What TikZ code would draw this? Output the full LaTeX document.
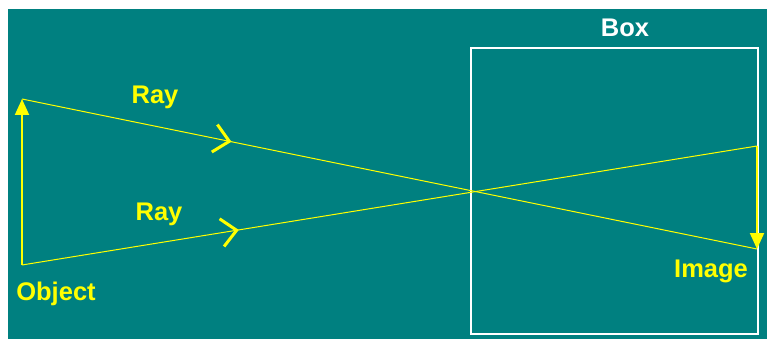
\documentclass[tikz,border=0pt]{standalone}
\usepackage{fontspec}
\setmainfont{Liberation Sans}
\usepackage{xcolor}
\usepackage{tikz}
\usetikzlibrary{arrows.meta,positioning,decorations.markings}
\definecolor{fundo}{HTML}{008080}
\definecolor{amarelo}{HTML}{FFFF00}
\tikzset{
    caixa/.style={
        rectangle,
        draw=white,
        line width=2pt,
        minimum width=287pt,
        minimum height=285pt,
        inner sep=0pt
    },
    rotulo/.style={font=\fontsize{25.5}{30}\selectfont\bfseries, inner sep=0pt},
    raio/.style={draw=amarelo, line width=1pt, postaction={decorate}},
    seta/.style={draw=amarelo, line width=2pt, -{Triangle[length=16pt, width=14pt]}},
    chevron/.style={
        decoration={markings,
            mark=at position #1 with {\arrow[amarelo]{Straight Barb[length=15pt, width=28pt, line width=3pt]}}}
    }
}

\begin{document}
\begin{tikzpicture}[x=1pt, y=-1pt]
        \useasboundingbox (0,0) rectangle (767,339);
        \fill[white] (0,0) rectangle (767,339);
        \fill[fundo] (8,9) rectangle (767,339);

        \coordinate (objTopo) at (22,99);
        \coordinate (objBase) at (22,265);
        \coordinate (imgTopo) at (757,146);
        \coordinate (imgBase) at (757,249);

        \node[caixa] (box) at (614.5,191) {};
        \node[rotulo, text=white, anchor=base] (boxLabel) at (625,37) {Box};

        \draw[raio, chevron=0.285] (objTopo) -- (imgBase);
        \draw[raio, chevron=0.295] (objBase) -- (imgTopo);
        \draw[seta] (objBase) -- (objTopo);
        \draw[seta] (imgTopo) -- (imgBase);

        \node[rotulo, text=amarelo, anchor=base] (rayA) at (155,104) {Ray};
        \node[rotulo, text=amarelo, anchor=base] (rayB) at (159,220) {Ray};
        \node[rotulo, text=amarelo, anchor=base] (objLabel) at (56,300) {Object};
        \node[rotulo, text=amarelo, anchor=base] (imgLabel) at (711,277) {Image};
    \end{tikzpicture}
\end{document}
